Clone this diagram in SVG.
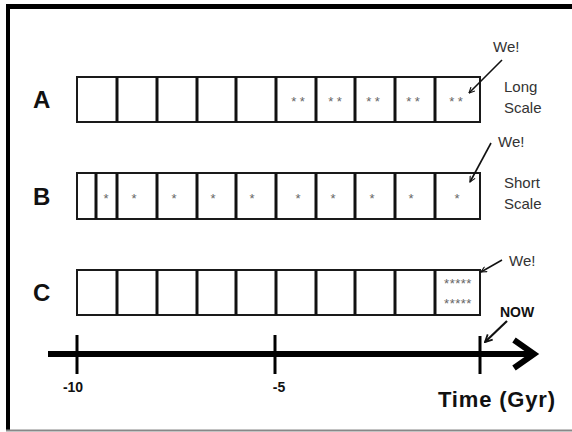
<svg xmlns="http://www.w3.org/2000/svg" width="572" height="432" viewBox="0 0 572 432">
<defs>
<style>
.box{fill:#fff;stroke:#1a1a1a;stroke-width:2}
.div{stroke:#111;stroke-width:3}
.lbl{font-family:"Liberation Sans",Arial,sans-serif;font-weight:bold;font-size:24px;fill:#111}
.txt{font-family:"Liberation Sans",Arial,sans-serif;font-size:15px;fill:#333}
.star{font-family:"Liberation Sans",Arial,sans-serif;font-size:13px;fill:#666;text-anchor:middle}
.ptr{stroke:#111;stroke-width:1.6;fill:none;marker-end:url(#ah)}
.axis{font-family:"Liberation Sans",Arial,sans-serif;font-weight:bold;font-size:14px;fill:#111;text-anchor:middle}
</style>
<marker id="ah" viewBox="0 0 10 10" refX="9" refY="5" markerWidth="7" markerHeight="7" orient="auto" markerUnits="userSpaceOnUse">
<path d="M1,1 L9,5 L1,9" fill="none" stroke="#111" stroke-width="1.6"/>
</marker>
<marker id="ah2" viewBox="0 0 10 10" refX="9" refY="5" markerWidth="9" markerHeight="9" orient="auto" markerUnits="userSpaceOnUse">
<path d="M1,1 L9,5 L1,9" fill="none" stroke="#111" stroke-width="2"/>
</marker>
</defs>
<rect width="572" height="432" fill="#fff"/>
<g id="frame">
<line x1="8" y1="6.5" x2="572" y2="6.5" stroke="#000" stroke-width="5"/>
<line x1="8" y1="4" x2="8" y2="431" stroke="#000" stroke-width="4"/>
<line x1="6" y1="430.5" x2="572" y2="430.5" stroke="#888" stroke-width="2"/>
</g>
<g id="rowA">
<text class="lbl" x="33" y="108">A</text>
<rect class="box" x="77" y="77" width="403" height="45"/>
<g class="div">
<line x1="117" y1="77" x2="117" y2="122"/><line x1="157" y1="77" x2="157" y2="122"/><line x1="197" y1="77" x2="197" y2="122"/><line x1="236" y1="77" x2="236" y2="122"/><line x1="276" y1="77" x2="276" y2="122"/><line x1="316" y1="77" x2="316" y2="122"/><line x1="355" y1="77" x2="355" y2="122"/><line x1="395" y1="77" x2="395" y2="122"/><line x1="435" y1="77" x2="435" y2="122"/>
</g>
<g class="star">
<text x="298" y="106">* *</text><text x="335" y="106">* *</text><text x="373" y="106">* *</text><text x="413" y="106">* *</text><text x="456" y="106">* *</text>
</g>
<text class="txt" x="504" y="92">Long</text>
<text class="txt" x="504" y="113">Scale</text>
</g>
<g id="rowB">
<text class="lbl" x="33" y="205">B</text>
<rect class="box" x="77" y="173" width="403" height="46"/>
<g class="div">
<line x1="96" y1="173" x2="96" y2="219"/><line x1="117" y1="173" x2="117" y2="219"/><line x1="157" y1="173" x2="157" y2="219"/><line x1="197" y1="173" x2="197" y2="219"/><line x1="236" y1="173" x2="236" y2="219"/><line x1="276" y1="173" x2="276" y2="219"/><line x1="316" y1="173" x2="316" y2="219"/><line x1="355" y1="173" x2="355" y2="219"/><line x1="395" y1="173" x2="395" y2="219"/><line x1="435" y1="173" x2="435" y2="219"/>
</g>
<g class="star">
<text x="106" y="203">*</text><text x="134" y="203">*</text><text x="174" y="203">*</text><text x="213" y="203">*</text><text x="252" y="203">*</text><text x="298" y="203">*</text><text x="333" y="203">*</text><text x="372" y="203">*</text><text x="411" y="203">*</text><text x="457" y="203">*</text>
</g>
<text class="txt" x="504" y="188">Short</text>
<text class="txt" x="504" y="209">Scale</text>
</g>
<g id="rowC">
<text class="lbl" x="33" y="301">C</text>
<rect class="box" x="77" y="270" width="403" height="45"/>
<g class="div">
<line x1="117" y1="270" x2="117" y2="315"/><line x1="157" y1="270" x2="157" y2="315"/><line x1="197" y1="270" x2="197" y2="315"/><line x1="236" y1="270" x2="236" y2="315"/><line x1="276" y1="270" x2="276" y2="315"/><line x1="316" y1="270" x2="316" y2="315"/><line x1="355" y1="270" x2="355" y2="315"/><line x1="395" y1="270" x2="395" y2="315"/><line x1="435" y1="270" x2="435" y2="315"/>
</g>
<g class="star">
<text x="458" y="288" letter-spacing="0.5">*****</text><text x="458" y="308" letter-spacing="0.5">*****</text>
</g>
</g>
<g id="we-labels">
<text class="txt" x="493" y="52" font-size="16">We!</text>
<text class="txt" x="498" y="147" font-size="16">We!</text>
<text class="txt" x="509" y="266" font-size="16">We!</text>
<text x="500" y="317" font-family="Liberation Sans, Arial, sans-serif" font-weight="bold" font-size="14" fill="#111">NOW</text>
</g>
<g id="timeline">
<line x1="48" y1="354" x2="532" y2="354" stroke="#000" stroke-width="6"/>
<polyline points="514,340 534,354 514,368" fill="none" stroke="#000" stroke-width="6" stroke-linejoin="miter"/>
<line x1="77" y1="335" x2="77" y2="374" stroke="#000" stroke-width="3"/>
<line x1="275" y1="335" x2="275" y2="374" stroke="#000" stroke-width="3"/>
<line x1="480" y1="336" x2="480" y2="374" stroke="#000" stroke-width="3"/>
<text class="axis" x="73" y="392">-10</text>
<text class="axis" x="279" y="392">-5</text>
<text x="438" y="407" font-family="Liberation Sans, Arial, sans-serif" font-weight="bold" font-size="22" fill="#111" textLength="117">Time (Gyr)</text>
</g>
<g id="connectors">
<line class="ptr" x1="502" y1="60" x2="469" y2="93"/>
<line class="ptr" x1="491" y1="143" x2="470" y2="182"/>
<line class="ptr" x1="502" y1="260" x2="481" y2="272"/>
<line x1="507" y1="321" x2="485" y2="342" stroke="#111" stroke-width="2.2" marker-end="url(#ah2)"/>
</g>
</svg>
